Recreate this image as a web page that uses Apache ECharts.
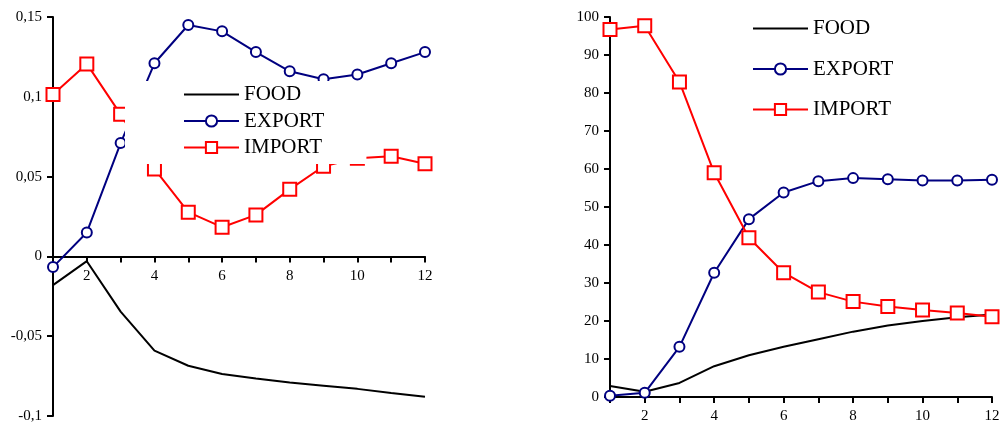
<!DOCTYPE html>
<html>
<head>
<meta charset="utf-8">
<script src="https://cdn.jsdelivr.net/npm/echarts@6/dist/echarts.min.js"></script>
<style>
html,body{margin:0;padding:0;background:#fff;}
#chart{width:1000px;height:428px;}
</style>
</head>
<body>
<div id="chart"></div>
<script>
// ---- data ----
const periods = [1,2,3,4,5,6,7,8,9,10,11,12];
const seriesNames = ['FOOD','EXPORT','IMPORT'];

// left chart
const leftFood   = [-0.018,-0.003,-0.0346,-0.059,-0.0685,-0.0737,-0.0765,-0.079,-0.081,-0.083,-0.0856,-0.088];
const leftExport = [-0.0067,0.015,0.071,0.121,0.145,0.141,0.128,0.116,0.111,0.114,0.121,0.128];
const leftImport = [0.1015,0.1206,0.089,0.0548,0.0277,0.0183,0.026,0.042,0.0565,0.0615,0.0627,0.058];
const leftYTicks = [-0.1,-0.05,0,0.05,0.1,0.15];

// right chart
const rightFood   = [2.9,1.4,3.7,8.1,11.0,13.2,15.2,17.2,18.8,20.0,21.0,21.7];
const rightExport = [0.3,1.1,13.2,32.7,46.8,53.8,56.8,57.6,57.3,57.0,57.0,57.2];
const rightImport = [96.7,97.7,82.9,59.0,41.9,32.7,27.6,25.1,23.8,22.9,22.1,21.1];
const rightYTicks = [0,10,20,30,40,50,60,70,80,90,100];

// ---- build ----
const FONT = 'Liberation Serif';
const colors = {FOOD:'#000000', EXPORT:'#000080', IMPORT:'#ff0000'};
const pairs = arr => periods.map((p,i)=>[p, arr[i]]);

const LEFT_H = 399;
const leftMin = leftYTicks[0], leftMax = leftYTicks[leftYTicks.length-1];
// distance from grid bottom to the zero line (x axis crosses at y = 0)
const leftZeroOffset = LEFT_H * (0 - leftMin) / (leftMax - leftMin);

function xAxis(gridIndex, offset){
  return {
    type:'value', gridIndex, min:1, max:12, interval:1,
    position:'bottom', offset: offset,
    axisLine:{onZero:false, lineStyle:{color:'#000', width:2}},
    axisTick:{show:true, length:6, lineStyle:{color:'#000', width:2}},
    axisLabel:{fontFamily:FONT, fontSize:15, color:'#000', margin:12,
      formatter: v => (v % 2 === 0 ? String(v) : '')},
    splitLine:{show:false}
  };
}
function yAxis(gridIndex, ticks, fmt){
  const iv = ticks[1]-ticks[0];
  return {
    type:'value', gridIndex, min:ticks[0], max:ticks[ticks.length-1], interval:iv,
    axisLine:{show:true, onZero:false, lineStyle:{color:'#000', width:2}},
    axisTick:{show:true, length:6, lineStyle:{color:'#000', width:2}},
    axisLabel:{fontFamily:FONT, fontSize:15, color:'#000', margin:11, formatter: fmt},
    splitLine:{show:false}
  };
}
function makeSeries(name, data, idx){
  const base = {
    name, type:'line', xAxisIndex:idx, yAxisIndex:idx, data,
    lineStyle:{color:colors[name], width:2},
    itemStyle:{color:'#fff', borderColor:colors[name], borderWidth:2},
    color: colors[name],
    animation:false, z:2
  };
  if(name==='FOOD'){ base.symbol='none'; base.showSymbol=false; }
  else if(name==='EXPORT'){ base.symbol='circle'; base.symbolSize=10; }
  else { base.symbol='rect'; base.symbolSize=13; }
  return base;
}
const leftFmt = v => String(Number(v.toFixed(2))).replace('.', ',');
const rightFmt = v => String(Math.round(v));

const legendText = {fontFamily:FONT, fontSize:21, color:'#000', lineHeight:21};
const legendData = [
  {name:'FOOD', itemStyle:{color:'rgba(0,0,0,0)', borderColor:'rgba(0,0,0,0)', borderWidth:0}},
  {name:'EXPORT'},
  {name:'IMPORT'}
];

const option = {
  backgroundColor:'#fff',
  animation:false,
  grid:[
    {left:53, top:17, width:372, height:LEFT_H, outerBoundsMode:'none', containLabel:false},
    {left:610, top:17, width:382, height:380, outerBoundsMode:'none', containLabel:false}
  ],
  xAxis:[xAxis(0, -leftZeroOffset), xAxis(1, 0)],
  yAxis:[
    yAxis(0, leftYTicks, leftFmt),
    yAxis(1, rightYTicks, rightFmt)
  ],
  legend:[
    {
      data:legendData, orient:'vertical', left:125, top:81,
      padding:[3,42,6,58], itemWidth:55, itemHeight:14, itemGap:5.5,
      backgroundColor:'#fff', textStyle:legendText, z:10,
      selectedMode:false
    },
    {
      data:legendData, orient:'vertical', left:752, top:18,
      padding:0, itemWidth:55, itemHeight:14, itemGap:19.5,
      textStyle:legendText, selectedMode:false
    }
  ],
  series:[
    makeSeries('FOOD', pairs(leftFood), 0),
    makeSeries('EXPORT', pairs(leftExport), 0),
    makeSeries('IMPORT', pairs(leftImport), 0),
    makeSeries('FOOD', pairs(rightFood), 1),
    makeSeries('EXPORT', pairs(rightExport), 1),
    makeSeries('IMPORT', pairs(rightImport), 1)
  ]
};
const chart = echarts.init(document.getElementById('chart'), null, {renderer:'canvas'});
chart.setOption(option);
</script>
</body>
</html>
